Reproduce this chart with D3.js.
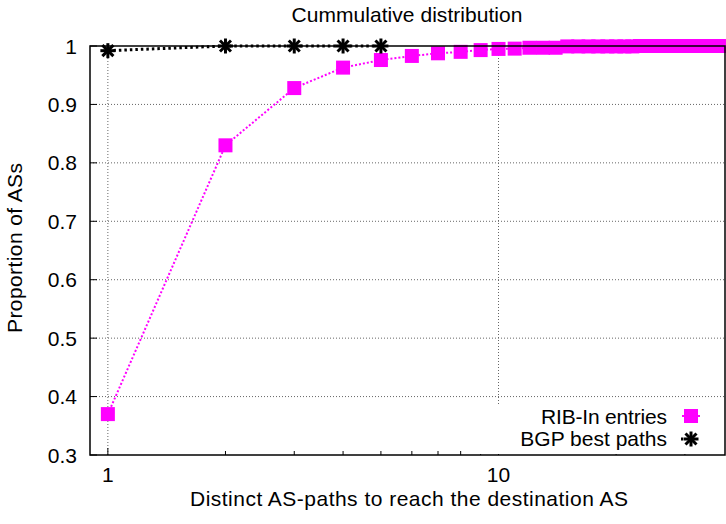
<!DOCTYPE html>
<html lang="en">
<head>
  <meta charset="utf-8">
  <title>Cummulative distribution</title>
  <script src="https://d3js.org/d3.v7.min.js"></script>
</head>
<style media="screen">
  body {
    margin: 0;
    background: #fff;
  }
  text {
    font-family: "Liberation Sans", Arial, Helvetica, sans-serif;
    fill: #000;
  }
</style>
<body>
  <div id="my_dataviz"></div>
</body>
<script>
  // RIB-In entries (cumulative proportion per number of distinct paths)
  var ribX = [1, 2, 3, 4, 5, 6, 7, 8, 9, 10, 11, 12, 13, 14, 15, 16, 17, 18, 19, 20,
    21, 22, 23, 24, 25, 26, 27, 28, 29, 30, 31, 32, 33, 34, 35, 36, 37, 38];
  var ribY = [0.370, 0.830, 0.928, 0.963, 0.976, 0.983, 0.9875, 0.990, 0.993, 0.995,
    0.9955, 0.997, 0.997, 0.997, 0.9993, 0.9993, 0.9993, 0.9993, 0.9993, 0.9993,
    0.9993, 0.9993, 1.0, 1.0, 1.0, 1.0, 1.0, 1.0, 1.0, 1.0, 1.0, 1.0, 1.0, 1.0, 1.0, 1.0, 1.0, 1.0];

  // BGP best paths
  var bgpX = [1, 2, 3, 4, 5];
  var bgpY = [0.992, 1.0, 1.0, 1.0, 1.0];

  var yTicks = [0.3, 0.4, 0.5, 0.6, 0.7, 0.8, 0.9, 1];
  var yTickLabels = ["0.3", "0.4", "0.5", "0.6", "0.7", "0.8", "0.9", "1"];
  var xMajor = [1, 10];
  var xMinor = [2, 3, 4, 5, 6, 7, 8, 9, 20, 30];

  var W = 726, H = 524;
  var margin = { top: 46, right: 1, bottom: 69, left: 90 };
  var width = W - margin.left - margin.right,
    height = H - margin.top - margin.bottom;

  var svg = d3.select("#my_dataviz")
    .append("svg")
    .attr("width", W)
    .attr("height", H)
    .style("display", "block");

  var g = svg.append("g")
    .attr("transform", "translate(" + margin.left + "," + margin.top + ")");

  var x = d3.scaleLog().domain([0.9, 38]).range([0, width]);
  var y = d3.scaleLinear().domain([0.3, 1]).range([height, 0]);

  // grid
  g.append("g")
    .selectAll("line")
    .data(yTicks.slice(1, -1))
    .enter()
    .append("line")
    .attr("x1", 0).attr("x2", width)
    .attr("y1", function(d) { return y(d); })
    .attr("y2", function(d) { return y(d); })
    .attr("stroke", "#666")
    .attr("stroke-width", 1)
    .attr("stroke-dasharray", "1,2");

  g.append("g")
    .selectAll("line")
    .data(xMajor)
    .enter()
    .append("line")
    .attr("x1", function(d) { return x(d); })
    .attr("x2", function(d) { return x(d); })
    .attr("y1", 0).attr("y2", height)
    .attr("stroke", "#666")
    .attr("stroke-width", 1)
    .attr("stroke-dasharray", "1,2");

  // ticks (inward)
  g.append("g")
    .selectAll("line")
    .data(yTicks)
    .enter()
    .append("line")
    .attr("x1", 0).attr("x2", 7)
    .attr("y1", function(d) { return y(d); })
    .attr("y2", function(d) { return y(d); })
    .attr("stroke", "#000");

  g.append("g")
    .selectAll("line")
    .data(xMajor.map(function(d) { return { v: d, l: 7 }; })
      .concat(xMinor.map(function(d) { return { v: d, l: 4 }; })))
    .enter()
    .append("line")
    .attr("x1", function(d) { return x(d.v); })
    .attr("x2", function(d) { return x(d.v); })
    .attr("y1", height).attr("y2", function(d) { return height - d.l; })
    .attr("stroke", "#000");

  // tick labels
  g.append("g")
    .selectAll("text")
    .data(yTicks)
    .enter()
    .append("text")
    .attr("x", -13)
    .attr("y", function(d) { return y(d) + 7.5; })
    .attr("text-anchor", "end")
    .style("font-size", "21px")
    .text(function(d, i) { return yTickLabels[i]; });

  g.append("g")
    .selectAll("text")
    .data(xMajor)
    .enter()
    .append("text")
    .attr("x", function(d) { return x(d); })
    .attr("y", height + 27)
    .attr("text-anchor", "middle")
    .style("font-size", "21px")
    .text(function(d) { return d; });

  // legend box hides the grid underneath
  svg.append("rect")
    .attr("x", 480).attr("y", 406)
    .attr("width", 244).attr("height", 48)
    .attr("fill", "#fff");

  var plot = g.append("g");

  // RIB-In line + squares
  var ribData = ribX.map(function(d, i) { return [d, ribY[i]]; });
  var line = d3.line()
    .x(function(d) { return x(d[0]); })
    .y(function(d) { return y(d[1]); });

  plot.append("path")
    .datum(ribData)
    .attr("d", line)
    .attr("fill", "none")
    .attr("stroke", "#ff00ff")
    .attr("stroke-width", 2)
    .attr("stroke-dasharray", "2,2");

  plot.selectAll("rect.rib")
    .data(ribData)
    .enter()
    .append("rect")
    .attr("class", "rib")
    .attr("x", function(d) { return x(d[0]) - 7; })
    .attr("y", function(d) { return y(d[1]) - 7; })
    .attr("width", 14).attr("height", 14)
    .attr("fill", "#ff00ff");

  // BGP line + stars
  var bgpData = bgpX.map(function(d, i) { return [d, bgpY[i]]; });
  plot.append("path")
    .datum(bgpData)
    .attr("d", line)
    .attr("fill", "none")
    .attr("stroke", "#000")
    .attr("stroke-width", 3)
    .attr("stroke-dasharray", "2.5,3");

  function star(sel, cx, cy) {
    var r = 7.5, s = 5.5;
    var gg = sel.append("g").attr("stroke", "#000").attr("stroke-width", 3);
    gg.append("line").attr("x1", cx - r).attr("x2", cx + r).attr("y1", cy).attr("y2", cy);
    gg.append("line").attr("x1", cx).attr("x2", cx).attr("y1", cy - r).attr("y2", cy + r);
    gg.append("line").attr("x1", cx - s).attr("x2", cx + s).attr("y1", cy - s).attr("y2", cy + s);
    gg.append("line").attr("x1", cx - s).attr("x2", cx + s).attr("y1", cy + s).attr("y2", cy - s);
  }
  bgpData.forEach(function(d) { star(plot, x(d[0]), y(d[1])); });

  // border
  g.append("rect")
    .attr("x", 0).attr("y", 0)
    .attr("width", width).attr("height", height)
    .attr("fill", "none")
    .attr("stroke", "#000")
    .attr("stroke-width", 1.5);

  // legend
  svg.append("text")
    .attr("x", 667).attr("y", 424)
    .attr("text-anchor", "end")
    .attr("textLength", 126)
    .style("font-size", "21px")
    .text("RIB-In entries");
  svg.append("line")
    .attr("x1", 682).attr("x2", 701).attr("y1", 416).attr("y2", 416)
    .attr("stroke", "#ff00ff").attr("stroke-width", 2).attr("stroke-dasharray", "2,2");
  svg.append("rect")
    .attr("x", 684).attr("y", 409).attr("width", 14).attr("height", 14)
    .attr("fill", "#ff00ff");

  svg.append("text")
    .attr("x", 667).attr("y", 445.5)
    .attr("text-anchor", "end")
    .style("font-size", "21px")
    .text("BGP best paths");
  svg.append("line")
    .attr("x1", 681).attr("x2", 683).attr("y1", 439).attr("y2", 439)
    .attr("stroke", "#000").attr("stroke-width", 3);
  star(svg, 691, 439);

  // titles
  svg.append("text")
    .attr("x", 407).attr("y", 22)
    .attr("text-anchor", "middle")
    .attr("textLength", 231)
    .style("font-size", "21px")
    .text("Cummulative distribution");

  svg.append("text")
    .attr("x", 409).attr("y", 506)
    .attr("text-anchor", "middle")
    .attr("textLength", 438)
    .style("font-size", "21px")
    .text("Distinct AS-paths to reach the destination AS");

  svg.append("text")
    .attr("transform", "translate(22,248) rotate(-90)")
    .attr("text-anchor", "middle")
    .attr("textLength", 170)
    .style("font-size", "21px")
    .text("Proportion of ASs");
</script>
</html>
